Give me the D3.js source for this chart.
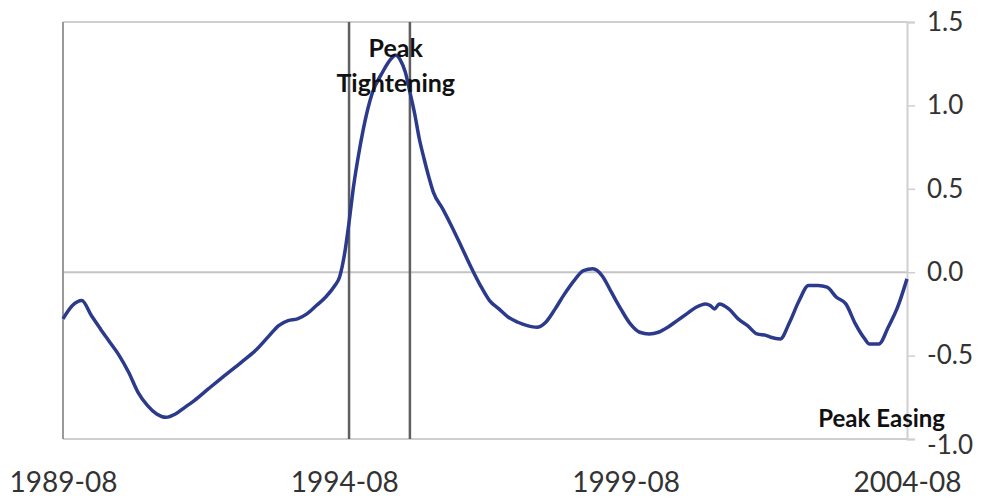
<!DOCTYPE html>
<html>
<head>
<meta charset="utf-8">
<script src="https://cdn.jsdelivr.net/npm/d3@7"></script>
<style>
  html, body { margin: 0; padding: 0; background: #ffffff; }
  svg { display: block; }
</style>
</head>
<body>
<svg id="chart" width="990" height="499"></svg>
<script>
// ---- data ----
const title = "Tightening & Easing Gauge";
const dates = [
  "1989-08","1989-10","1989-12","1990-02","1990-04","1990-06","1990-08","1990-10","1990-12",
  "1991-02","1991-04","1991-06","1991-08","1991-10","1991-12","1992-03","1992-06","1992-10",
  "1993-01","1993-04","1993-06","1993-08","1993-10","1993-12","1994-02","1994-04","1994-06",
  "1994-07","1994-08","1994-09","1994-10","1994-11","1994-12","1995-01","1995-02","1995-04",
  "1995-06","1995-07","1995-08","1995-09","1995-10","1995-11","1995-12","1996-01","1996-02",
  "1996-03","1996-05","1996-07","1996-09","1996-11","1997-01","1997-03","1997-05","1997-07",
  "1997-09","1997-11","1998-01","1998-03","1998-05","1998-07","1998-09","1998-11","1999-01",
  "1999-03","1999-05","1999-07","1999-09","1999-11","2000-01","2000-03","2000-05","2000-07",
  "2000-09","2000-11","2001-01","2001-02","2001-03","2001-04","2001-06","2001-08","2001-10",
  "2001-12","2002-02","2002-03","2002-05","2002-07","2002-09","2002-11","2003-01","2003-03",
  "2003-05","2003-07","2003-09","2003-11","2003-12","2004-02","2004-04","2004-06","2004-08"
];
const gauge = [
  -0.28,-0.20,-0.17,-0.26,-0.34,-0.42,-0.50,-0.60,-0.72,
  -0.80,-0.85,-0.87,-0.85,-0.81,-0.77,-0.70,-0.63,-0.54,
  -0.47,-0.38,-0.32,-0.29,-0.28,-0.25,-0.20,-0.15,-0.08,
  -0.03,0.10,0.30,0.52,0.70,0.85,0.98,1.08,1.19,
  1.28,1.30,1.27,1.20,1.08,0.95,0.80,0.68,0.57,
  0.48,0.38,0.27,0.15,0.03,-0.08,-0.17,-0.22,-0.27,
  -0.30,-0.32,-0.33,-0.30,-0.22,-0.13,-0.05,0.01,0.02,
  -0.02,-0.12,-0.22,-0.31,-0.36,-0.37,-0.36,-0.33,-0.29,
  -0.25,-0.21,-0.19,-0.20,-0.22,-0.19,-0.22,-0.28,-0.32,
  -0.37,-0.38,-0.39,-0.40,-0.30,-0.17,-0.08,-0.08,-0.09,
  -0.15,-0.19,-0.31,-0.40,-0.43,-0.43,-0.33,-0.21,-0.04
];
const xTickLabels = ["1989-08","1994-08","1999-08","2004-08"];
const yTickValues = [-1.0,-0.5,0.0,0.5,1.0,1.5];
const eventDates = ["1994-09","1995-10"];
const annotTight = ["Peak","Tightening"];
const annotTightDate = "1995-07";
const annotEase = "Peak Easing";

// ---- chart ----
const parse = d3.timeParse("%Y-%m");
const fmt = d3.timeFormat("%Y-%m");
const data = dates.map((d, i) => ({ date: parse(d), value: gauge[i] }));

const svg = d3.select("#chart");
const L = 63, R = 907, T = 22, B = 439;

const x = d3.scaleTime()
  .domain([parse(xTickLabels[0]), parse(xTickLabels[xTickLabels.length - 1])])
  .range([L, R]);
const y = d3.scaleLinear().domain([-1, 1.5]).range([B, T]);

const font = "Lato, 'Open Sans', sans-serif";

// title (mostly clipped at top, as in the reference)
svg.append("text")
  .attr("x", 490).attr("y", -5)
  .attr("text-anchor", "middle")
  .attr("font-family", font).attr("font-weight", 700)
  .attr("font-size", 30).attr("fill", "#222")
  .text(title);

// frame lines
svg.append("line").attr("x1", L).attr("x2", R).attr("y1", y(1.5)).attr("y2", y(1.5))
  .attr("stroke", "#cfcfcf").attr("stroke-width", 2);
svg.append("line").attr("x1", L).attr("x2", R).attr("y1", y(-1)).attr("y2", y(-1))
  .attr("stroke", "#cfcfcf").attr("stroke-width", 2);
svg.append("line").attr("x1", L).attr("x2", R).attr("y1", y(0)).attr("y2", y(0))
  .attr("stroke", "#c4c4c4").attr("stroke-width", 2);
svg.append("line").attr("x1", L).attr("x2", L).attr("y1", T).attr("y2", B)
  .attr("stroke", "#9a9a9a").attr("stroke-width", 2);

// right axis
const yAxis = d3.axisRight(y)
  .tickValues(yTickValues)
  .tickSize(8)
  .tickPadding(12)
  .tickFormat(d => d3.format(".1f")(d).replace("\u2212", "-"));
const ya = svg.append("g").attr("transform", `translate(${R},0)`).call(yAxis);
ya.select(".domain").attr("stroke", "#cfcfcf").attr("stroke-width", 2);
ya.selectAll(".tick line").attr("stroke", "#cfcfcf").attr("stroke-width", 1.5);
ya.selectAll("text").attr("font-family", font).attr("font-size", 26).attr("fill", "#333");
ya.selectAll(".tick").filter(d => d === -1).select("text").attr("dy", "0.55em");

// bottom axis
const xAxis = d3.axisBottom(x)
  .tickValues(xTickLabels.map(parse))
  .tickSize(0)
  .tickPadding(33)
  .tickFormat(fmt);
const xa = svg.append("g").attr("transform", `translate(0,${B})`).call(xAxis);
xa.select(".domain").remove();
xa.selectAll("text").attr("font-family", font).attr("font-size", 28).attr("fill", "#333");

// event lines
svg.selectAll(".event").data(eventDates).enter().append("line")
  .attr("class", "event")
  .attr("x1", d => x(parse(d))).attr("x2", d => x(parse(d)))
  .attr("y1", T).attr("y2", B)
  .attr("stroke", "#5f5f5f").attr("stroke-width", 2.5);

// series line
const line = d3.line()
  .x(d => x(d.date)).y(d => y(d.value))
  .curve(d3.curveMonotoneX);
svg.append("path").datum(data)
  .attr("d", line)
  .attr("fill", "none")
  .attr("stroke", "#2c3a8c")
  .attr("stroke-width", 3.5)
  .attr("stroke-linejoin", "round");

// annotations
const ax = x(parse(annotTightDate));
svg.selectAll(".annT").data(annotTight).enter().append("text")
  .attr("class", "annT")
  .attr("x", ax).attr("y", (d, i) => 57 + i * 35)
  .attr("text-anchor", "middle")
  .attr("font-family", font).attr("font-weight", 700)
  .attr("font-size", 25).attr("fill", "#111")
  .text(d => d);

svg.append("text")
  .attr("x", 945).attr("y", 427)
  .attr("text-anchor", "end")
  .attr("font-family", font).attr("font-weight", 700)
  .attr("font-size", 24).attr("fill", "#111")
  .text(annotEase);
</script>
</body>
</html>
